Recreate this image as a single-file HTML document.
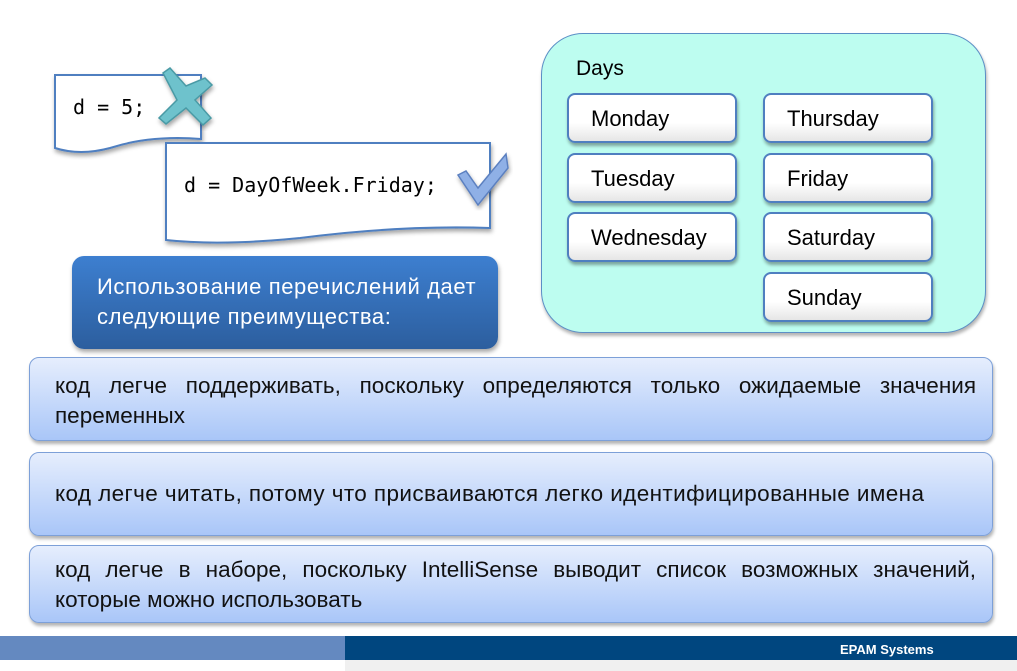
<!DOCTYPE html>
<html><head><meta charset="utf-8"><style>
body{margin:0;width:1017px;height:671px;background:#fff;position:relative;overflow:hidden;font-family:"Liberation Sans","DejaVu Sans",sans-serif}
.abs{position:absolute}
.day{position:absolute;height:46px;border:2.5px solid #4f7fc0;border-radius:8px;background:linear-gradient(#fff 60%,#e6e6e6);box-shadow:1px 3px 3px rgba(0,0,0,.35);font-size:22px;line-height:48px;padding-left:22px;box-sizing:content-box;width:144px}
.bul{position:absolute;left:29px;width:964px;border:1px solid #7da0d8;border-radius:10px;background:linear-gradient(#e6eefd,#a9c6f8);box-shadow:1px 3px 3px rgba(0,0,0,.3);font-size:22.5px;color:#111;box-sizing:border-box;padding:0 16px 0 25px}
.j{text-align:justify;text-align-last:justify;white-space:nowrap}
.code{font-family:"DejaVu Sans Mono","Liberation Mono",monospace;font-size:20px}
</style></head><body>
<svg class="abs" style="left:0;top:0" width="1017" height="671">
<defs><filter id="s"><feDropShadow dx="1" dy="3" stdDeviation="2" flood-opacity=".35"/></filter></defs>
<path d="M55 75 H201 V139 Q150 135 110 148 Q80 156 55 148 Z" fill="#fff" stroke="#4f7fc0" stroke-width="2" filter="url(#s)"/>
<path d="M166 143 H490 V228 Q400 225 300 238 Q220 246 166 240 Z" fill="#fff" stroke="#4f7fc0" stroke-width="2" filter="url(#s)"/>
<g filter="url(#s)"><path d="M163 73 L170 68 L186 86 L205 78 L212 85 L195 100 L211 118 L203 125 L186 108 L166 124 L159 118 L177 100 Z" fill="#6ec2cc" stroke="#4a9aa5" stroke-width="1.5"/></g>
<g filter="url(#s)"><path d="M458 175 L466 171 L478 188 L506 154 L508 168 L478 205 Z" fill="#8fb0e6" stroke="#5b80c0" stroke-width="1.5"/></g>
</svg>
<div class="abs code" style="left:73px;top:95px">d = 5;</div>
<div class="abs code" style="left:184px;top:173px">d = DayOfWeek.Friday;</div>
<div class="abs" style="left:72px;top:256px;width:426px;height:93px;border-radius:12px;background:linear-gradient(#3d7fd0,#2c5e9e);box-shadow:1px 3px 4px rgba(0,0,0,.35);color:#fff;font-size:22px;letter-spacing:0.6px;line-height:30px;padding:16px 0 0 25px;box-sizing:border-box">Использование перечислений дает<br>следующие преимущества:</div>
<div class="abs" style="left:541px;top:33px;width:445px;height:300px;border:1px solid #5c8fc6;border-radius:42px;background:#bdfdf0;box-shadow:1px 3px 3px rgba(0,0,0,.3);box-sizing:border-box"></div>
<div class="abs" style="left:576px;top:57px;font-size:21px">Days</div>
<div class="day" style="left:567px;top:93px">Monday</div>
<div class="day" style="left:567px;top:153px">Tuesday</div>
<div class="day" style="left:567px;top:212px">Wednesday</div>
<div class="day" style="left:763px;top:93px">Thursday</div>
<div class="day" style="left:763px;top:153px">Friday</div>
<div class="day" style="left:763px;top:212px">Saturday</div>
<div class="day" style="left:763px;top:272px">Sunday</div>
<div class="bul" style="top:357px;height:84px;padding-top:13px;line-height:30px"><div class="j">код легче поддерживать, поскольку определяются только ожидаемые значения</div><div>переменных</div></div>
<div class="bul" style="top:452px;height:84px;line-height:82px;letter-spacing:0.4px">код легче читать, потому что присваиваются легко идентифицированные имена</div>
<div class="bul" style="top:545px;height:78px;padding-top:9px;line-height:30px"><div class="j">код легче в наборе, поскольку IntelliSense выводит список возможных значений,</div><div>которые можно использовать</div></div>
<div class="abs" style="left:0;top:636px;width:345px;height:24px;background:#6489c0"></div>
<div class="abs" style="left:345px;top:636px;width:672px;height:24px;background:#00467f"></div>
<div class="abs" style="left:345px;top:660px;width:672px;height:11px;background:#f0f0f0"></div>
<div class="abs" style="left:840px;top:642px;color:#fff;font-weight:bold;font-size:13px">EPAM Systems</div>
</body></html>
